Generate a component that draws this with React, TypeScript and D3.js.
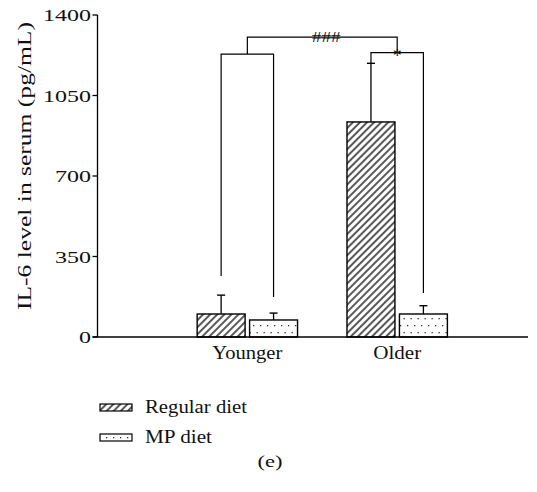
import React, { useRef, useEffect } from 'react';
import * as d3 from 'd3';

// groups and series
const groups = ['Younger', 'Older'];
const seriesNames = ['Regular diet', 'MP diet'];
const regularMeans = [100, 935];
const regularErr = [82, 255];
const mpMeans = [74, 100];
const mpErr = [30, 36];

const yTicks = [0, 350, 700, 1050, 1400];

// significance brackets: leg ends and bracket top, in data units
const withinBrackets = [
  { group: 0, left: 265, right: 174, top: 1230 },
  { group: 1, left: 1190, right: 191, top: 1236, label: '*' },
];
const betweenBracket = { top: 1304, label: '###' };

const width = 537;
const height = 492;
const font = "'Liberation Serif', 'Times New Roman', Times, serif";

const App: React.FC = () => {
  const ref = useRef<SVGSVGElement>(null);

  useEffect(() => {
    const svg = d3.select(ref.current);
    svg.selectAll('*').remove();

    const y = d3.scaleLinear().domain([0, 1400]).range([337, 15]);
    // group index on a linear scale: 1 = Younger, 2 = Older
    const x = d3.scaleLinear().domain([0, 2.873]).range([97.5, 528]);
    const barW = x(1.32) - x(1);
    const off = x(1.175) - x(1);

    const defs = svg.append('defs');
    const hatch = defs
      .append('pattern')
      .attr('id', 'hatch')
      .attr('patternUnits', 'userSpaceOnUse')
      .attr('width', 5)
      .attr('height', 5)
      .attr('patternTransform', 'rotate(45)');
    hatch.append('rect').attr('width', 5).attr('height', 5).attr('fill', '#fff');
    hatch
      .append('line')
      .attr('x1', 1)
      .attr('y1', 0)
      .attr('x2', 1)
      .attr('y2', 5)
      .attr('stroke', '#000')
      .attr('stroke-width', 1.3);

    const dots = defs
      .append('pattern')
      .attr('id', 'dots')
      .attr('patternUnits', 'userSpaceOnUse')
      .attr('width', 7)
      .attr('height', 14);
    dots.append('rect').attr('width', 7).attr('height', 14).attr('fill', '#fff');
    dots.append('rect').attr('x', 1).attr('y', 3).attr('width', 1.3).attr('height', 1.3).attr('fill', '#333');
    dots.append('rect').attr('x', 4.5).attr('y', 10).attr('width', 1.3).attr('height', 1.3).attr('fill', '#333');

    const series = [
      { means: regularMeans, err: regularErr, fill: 'url(#hatch)', dx: -off },
      { means: mpMeans, err: mpErr, fill: 'url(#dots)', dx: off },
    ];

    const centre = (gi: number, dx: number) => x(gi + 1) + dx;

    series.forEach((s) => {
      const g = svg.append('g');
      g.selectAll('rect')
        .data(s.means)
        .join('rect')
        .attr('x', (d, i) => centre(i, s.dx) - barW / 2)
        .attr('y', (d) => y(d))
        .attr('width', barW)
        .attr('height', (d) => y(0) - y(d))
        .attr('fill', s.fill)
        .attr('stroke', '#000')
        .attr('stroke-width', 1.4);

      s.means.forEach((m, i) => {
        const cx = centre(i, s.dx);
        g.append('line')
          .attr('x1', cx)
          .attr('x2', cx)
          .attr('y1', y(m))
          .attr('y2', y(m + s.err[i]))
          .attr('stroke', '#000')
          .attr('stroke-width', 1.3);
        g.append('line')
          .attr('x1', cx - 4)
          .attr('x2', cx + 4)
          .attr('y1', y(m + s.err[i]))
          .attr('y2', y(m + s.err[i]))
          .attr('stroke', '#000')
          .attr('stroke-width', 1.4);
      });
    });

    // brackets
    const br = svg.append('g').attr('fill', 'none').attr('stroke', '#000').attr('stroke-width', 1.2);
    const mids: number[] = [];
    withinBrackets.forEach((b) => {
      const xl = centre(b.group, -off);
      const xr = centre(b.group, off);
      br.append('path').attr(
        'd',
        `M${xl},${y(b.left)}V${y(b.top)}H${xr}V${y(b.right)}`,
      );
      mids.push((xl + xr) / 2);
    });
    br.append('path').attr(
      'd',
      `M${mids[0]},${y(withinBrackets[0].top)}V${y(betweenBracket.top)}H${mids[1]}V${y(withinBrackets[1].top)}`,
    );

    const txt = (sel: any, size: number, len?: number) => {
      sel.style('font-family', font).style('font-size', `${size}px`).attr('fill', '#111');
      if (len) sel.attr('textLength', len).attr('lengthAdjust', 'spacingAndGlyphs');
      return sel;
    };

    txt(
      svg
        .append('text')
        .attr('x', (mids[0] + mids[1]) / 2 + 4)
        .attr('y', y(betweenBracket.top) + 5)
        .attr('text-anchor', 'middle')
        .text(betweenBracket.label),
      15,
      29,
    );
    txt(
      svg
        .append('text')
        .attr('x', mids[1])
        .attr('y', y(withinBrackets[1].top) + 9)
        .attr('text-anchor', 'middle')
        .text(withinBrackets[1].label!),
      18,
    );

    // axes
    svg
      .append('line')
      .attr('x1', x(0))
      .attr('x2', x(0))
      .attr('y1', y(1400))
      .attr('y2', y(0))
      .attr('stroke', '#000')
      .attr('stroke-width', 1.3);
    svg
      .append('line')
      .attr('x1', x(0) - 5)
      .attr('x2', x(2.873))
      .attr('y1', y(0))
      .attr('y2', y(0))
      .attr('stroke', '#000')
      .attr('stroke-width', 1.3);

    const tickG = svg.append('g');
    yTicks.forEach((t) => {
      tickG
        .append('line')
        .attr('x1', x(0) - 5)
        .attr('x2', x(0))
        .attr('y1', y(t))
        .attr('y2', y(t))
        .attr('stroke', '#000')
        .attr('stroke-width', 1.3);
      const label = String(t);
      txt(
        tickG
          .append('text')
          .attr('x', 91)
          .attr('y', y(t) + 6)
          .attr('text-anchor', 'end')
          .text(label),
        17,
        label.length * 12,
      );
    });

    txt(
      svg
        .append('text')
        .attr('transform', `translate(31,166) rotate(-90)`)
        .attr('text-anchor', 'middle')
        .text('IL-6 level in serum (pg/mL)'),
      18,
      288,
    );

    const catWidths = [70, 48];
    groups.forEach((gname, i) => {
      txt(
        svg
          .append('text')
          .attr('x', x(i + 1))
          .attr('y', 359)
          .attr('text-anchor', 'middle')
          .text(gname),
        19,
        catWidths[i],
      );
    });

    // legend
    const legFills = ['url(#hatch)', 'url(#dots)'];
    const legTextW = [102, 67];
    const legY = [404, 434];
    seriesNames.forEach((name, i) => {
      svg
        .append('rect')
        .attr('x', 100)
        .attr('y', legY[i])
        .attr('width', 32)
        .attr('height', 7)
        .attr('fill', legFills[i])
        .attr('stroke', '#000')
        .attr('stroke-width', 1.2);
      txt(
        svg
          .append('text')
          .attr('x', 145)
          .attr('y', legY[i] + 9)
          .text(name),
        19,
        legTextW[i],
      );
    });

    txt(
      svg.append('text').attr('x', 270).attr('y', 467).attr('text-anchor', 'middle').text('(e)'),
      17,
      25,
    );
  }, []);

  return (
    <svg
      ref={ref}
      width={width}
      height={height}
      style={{ position: 'absolute', left: 0, top: 0, background: '#fff' }}
    />
  );
};

export default App;
